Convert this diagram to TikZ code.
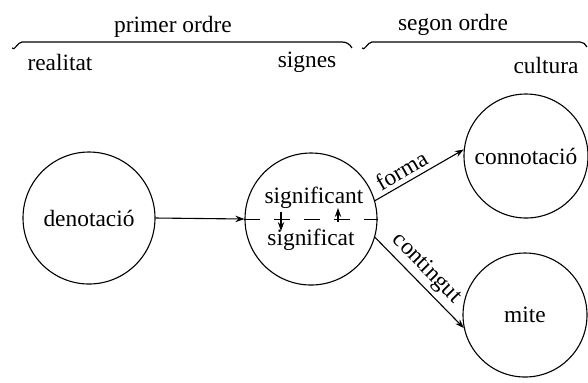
\documentclass[tikz,border=0pt]{standalone}
\usepackage{fontspec}
\setmainfont{Liberation Serif}
\newfontfamily\timesfam{Liberation Serif}
\usetikzlibrary{arrows.meta}
\begin{document}
\begin{tikzpicture}[x=0.5pt,y=-0.5pt,
  every node/.style={font=\timesfam\fontsize{11.7}{14}\selectfont},
  ring/.style={draw,circle,inner sep=0pt,line width=0.55pt,minimum size=66pt},
  lbl/.style={inner sep=0pt},
  conn/.style={line width=0.55pt,-{Stealth[length=4.5pt,width=3.2pt]}},
  bracepath/.style={line width=0.6pt}]
\useasboundingbox (0,0) rectangle (588,382);
% headers
\node[lbl] (po) at (173,27) {primer ordre};
\node[lbl] (so) at (453,25) {segon ordre};
\node[lbl] (re) at (60,62) {realitat};
\node[lbl] (si) at (307,62) {signes};
\node[lbl] (cu) at (546,65) {cultura};
% braces
\draw[bracepath] (12,48) to[out=-60,in=180] (22,42) -- (342,42) to[out=0,in=120] (352,48);
\draw[bracepath] (362,48) to[out=-60,in=180] (372,42) -- (580,42) to[out=0,in=120] (587,47);
% circles
\node[ring] (den) at (89,218) {denotació};
\node[ring] (sig) at (311,219) {};
\node[lbl] (sgt) at (314,198) {significant};
\node[lbl] (sgd) at (311,240) {significat};
\node[ring,minimum size=62pt] (con) at (526,156) {connotació};
\node[ring,minimum size=62pt] (mit) at (525,315) {mite};
% connectors
\draw[conn] (den.east) -- (sig.west);
\draw[line width=0.5pt,dash pattern=on 8pt off 7pt] (sig.west) -- (sig.east);
\coordinate (d1) at (281,212);
\coordinate (d2) at (281,231);
\coordinate (u1) at (338,222);
\coordinate (u2) at (338,208);
\draw[conn] (d1) -- (d2);
\draw[conn] (u1) -- (u2);
\draw[conn] (sig.16) -- node[pos=0.37,sloped,above,inner sep=2pt] {forma} (con.174);
\draw[conn] (sig.-16) -- node[pos=0.46,sloped,above,inner sep=2pt] {contingut} (mit.192);
\end{tikzpicture}
\end{document}
